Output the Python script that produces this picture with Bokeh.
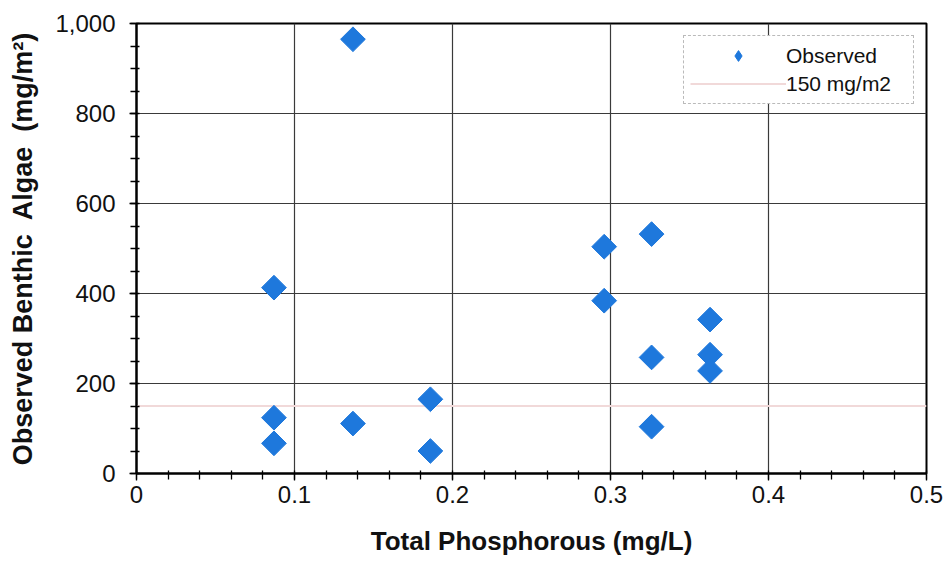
import math
import numpy as np
from bokeh.plotting import figure
from bokeh.models import Range1d, FixedTicker, Legend, LegendItem
from bokeh.embed import file_html
from bokeh.resources import INLINE

# ---- data ----
TOTAL_P = [0.087, 0.087, 0.087, 0.137, 0.137, 0.186, 0.186,
           0.296, 0.296, 0.326, 0.326, 0.326, 0.363, 0.363, 0.363]
ALGAE = [413, 124, 67, 111, 965, 165, 50,
         504, 384, 532, 258, 104, 342, 264, 228]
THRESHOLD = 150
X_RANGE = [0, 0.5]
Y_RANGE = [0, 1000]
X_TICKS = [0, 0.1, 0.2, 0.3, 0.4, 0.5]
X_TICK_LABELS = ["0", "0.1", "0.2", "0.3", "0.4", "0.5"]
Y_TICKS = [0, 200, 400, 600, 800, 1000]
Y_TICK_LABELS = ["0", "200", "400", "600", "800", "1,000"]
X_MINOR = [round(v, 2) for v in np.arange(0, 0.5001, 0.02)]
Y_MINOR = list(range(0, 1001, 50))

FONT = "Liberation Sans"
BLUE = "#1E78DC"

p = figure(width=943, height=561,
           x_range=Range1d(*X_RANGE), y_range=Range1d(*Y_RANGE),
           output_backend="svg", toolbar_location=None,
           min_border_left=136, min_border_right=17,
           min_border_top=23, min_border_bottom=88,
           background_fill_color="white", border_fill_color="white")

p.outline_line_color = "black"
p.outline_line_width = 2

# grid
p.xgrid.ticker = FixedTicker(ticks=X_TICKS)
p.ygrid.ticker = FixedTicker(ticks=Y_TICKS)
for g in (p.xgrid, p.ygrid):
    g.grid_line_color = "#3a3a3a"
    g.grid_line_width = 1.2

# axes
p.xaxis.ticker = FixedTicker(ticks=X_TICKS, minor_ticks=X_MINOR)
p.yaxis.ticker = FixedTicker(ticks=Y_TICKS, minor_ticks=Y_MINOR)
p.xaxis.major_label_overrides = dict(zip(X_TICKS, X_TICK_LABELS))
p.yaxis.major_label_overrides = dict(zip(Y_TICKS, Y_TICK_LABELS))
for ax in (p.xaxis[0], p.yaxis[0]):
    ax.axis_line_color = "black"
    ax.axis_line_width = 2
    ax.major_tick_line_color = "black"
    ax.minor_tick_line_color = "black"
    ax.major_tick_line_width = 1.3
    ax.minor_tick_line_width = 1.3
    ax.major_tick_in = 0
    ax.major_tick_out = 7
    ax.minor_tick_in = 3
    ax.minor_tick_out = 6
    ax.major_label_text_font = FONT
    ax.major_label_text_font_size = "24px"
    ax.major_label_text_color = "#111111"
    ax.axis_label_text_font = FONT
    ax.axis_label_text_font_style = "bold"
    ax.axis_label_text_color = "#111111"

p.xaxis.axis_label = "Total Phosphorous (mg/L)"
p.yaxis.axis_label = "Observed Benthic\u00a0 Algae\u00a0 (mg/m\u00b2)"
p.xaxis.axis_label_text_font_size = "26px"
p.yaxis.axis_label_text_font_size = "27px"
p.xaxis.major_label_standoff = 5
p.yaxis.major_label_standoff = 14
p.xaxis.axis_label_standoff = 20
p.yaxis.axis_label_standoff = 14

# threshold line
thr = p.line(x=X_RANGE, y=[THRESHOLD, THRESHOLD],
             line_color="#F1D9D9", line_width=2)

# legend proxy glyph (small diamonds, fully hidden beneath the plotted markers)
obs_leg = p.scatter(x=TOTAL_P, y=ALGAE, marker="diamond", size=12,
                    fill_color=BLUE, line_color=BLUE)

# observed points (rotated squares)
obs = p.scatter(x=TOTAL_P, y=ALGAE, marker="square", angle=math.pi / 4,
                size=17.5, fill_color=BLUE, line_color=BLUE)

legend = Legend(items=[LegendItem(label="Observed", renderers=[obs_leg]),
                       LegendItem(label="150 mg/m2", renderers=[thr])],
                location="top_right", margin=12,
                padding=6, spacing=1,
                glyph_width=96, glyph_height=27, label_height=27,
                label_width=121, label_standoff=0,
                label_text_font=FONT, label_text_font_size="21px",
                label_text_color="#111111",
                border_line_color="#777777", border_line_dash="3 2",
                border_line_width=1,
                background_fill_color="white", background_fill_alpha=1)
p.add_layout(legend, "center")

open("out.html", "w").write(file_html(p, INLINE))
